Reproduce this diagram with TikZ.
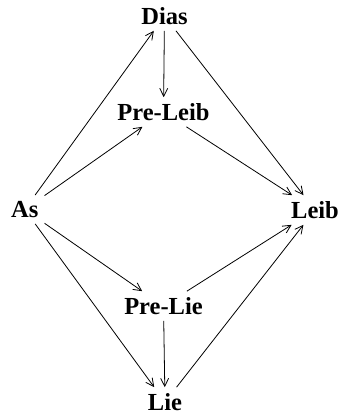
\documentclass[tikz,border=0pt]{standalone}
\usepackage{fontspec}
\setmainfont{Liberation Serif}
\usetikzlibrary{arrows.meta}
\begin{document}
\begin{tikzpicture}[x=1pt,y=-1pt,
  lbl/.style={font=\fontsize{24.5}{28}\selectfont\bfseries, inner sep=6pt},
  arr/.style={-{Straight Barb[length=8pt,width=8pt,line width=0.8pt]}, line width=0.8pt}]
\useasboundingbox (0,0) rectangle (339,415);
\node[lbl] (dias) at (164.5,16) {Dias};
\node[lbl] (pleib) at (163.5,112) {Pre-Leib};
\node[lbl] (as) at (24.7,209.5) {As};
\node[lbl] (leib) at (315,210) {Leib};
\node[lbl] (plie) at (163.5,306) {Pre-Lie};
\node[lbl] (lie) at (165,402) {Lie};
\draw[arr] (dias) -- (pleib);
\draw[arr] (dias) -- (leib);
\draw[arr] (as) -- (dias);
\draw[arr] (as) -- (pleib);
\draw[arr] (pleib) -- (leib);
\draw[arr] (as) -- (plie);
\draw[arr] (as) -- (lie);
\draw[arr] (plie) -- (leib);
\draw[arr] (plie) -- (lie);
\draw[arr] (lie) -- (leib);
\end{tikzpicture}
\end{document}
